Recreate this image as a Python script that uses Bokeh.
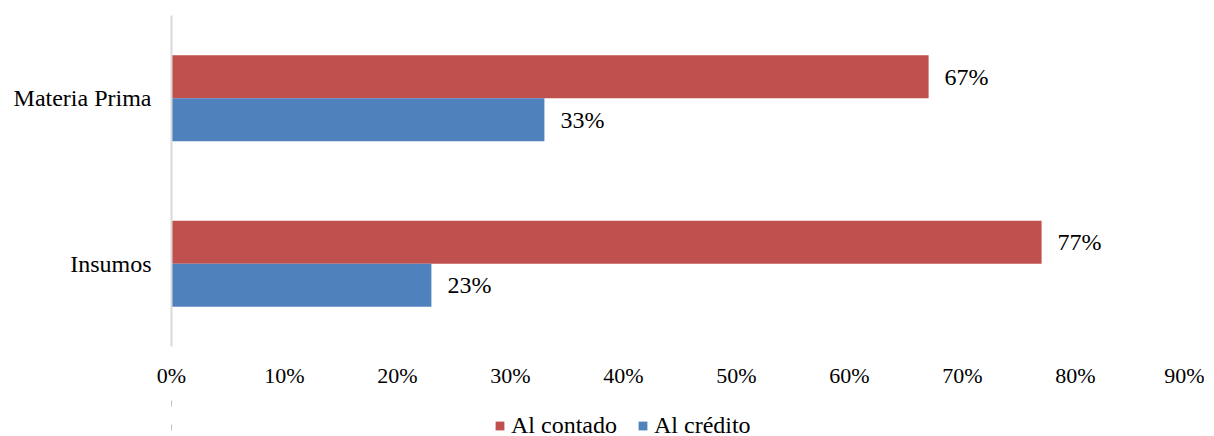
from bokeh.plotting import figure
from bokeh.models import ColumnDataSource, FactorRange, Range1d, FixedTicker, Legend, LegendItem
from bokeh.layouts import column
from bokeh.transform import dodge
from bokeh.core.properties import value
from bokeh.embed import file_html
from bokeh.resources import INLINE

categories = ["Insumos", "Materia Prima"]
al_contado = [77, 67]
al_credito = [23, 33]
tick_values = [0, 10, 20, 30, 40, 50, 60, 70, 80, 90]
series_names = ["Al contado", "Al crédito"]

FONT = "Liberation Serif"
RED = "#C0504D"
BLUE = "#4F81BD"

src = ColumnDataSource(dict(
    cat=categories,
    contado=al_contado,
    credito=al_credito,
    lbl_c=[f"{v}%" for v in al_contado],
    lbl_r=[f"{v}%" for v in al_credito],
))

p = figure(
    y_range=FactorRange(factors=categories, range_padding=0),
    x_range=Range1d(0, 90),
    width=1204, height=391,
    min_border_left=171, min_border_top=15, min_border_right=16, min_border_bottom=45,
    output_backend="svg", toolbar_location=None,
)

p.hbar(y=dodge("cat", 0.13, range=p.y_range), left=0, right="contado", height=0.26,
       source=src, fill_color=RED, line_color=None)
p.hbar(y=dodge("cat", -0.13, range=p.y_range), left=0, right="credito", height=0.26,
       source=src, fill_color=BLUE, line_color=None)

p.text(x="contado", y=dodge("cat", 0.13, range=p.y_range), text="lbl_c", source=src,
       x_offset=16, text_baseline="middle", text_align="left",
       text_font=value(FONT), text_font_size="24px", text_color="black")
p.text(x="credito", y=dodge("cat", -0.13, range=p.y_range), text="lbl_r", source=src,
       x_offset=16, text_baseline="middle", text_align="left",
       text_font=value(FONT), text_font_size="24px", text_color="black")

p.xgrid.visible = False
p.ygrid.visible = False
p.outline_line_color = None

xa = p.xaxis[0]
xa.ticker = FixedTicker(ticks=tick_values)
xa.major_label_overrides = {t: f"{t}%" for t in tick_values}
xa.axis_line_color = None
xa.major_tick_line_color = None
xa.minor_tick_line_color = None
xa.major_label_standoff = 10
xa.major_label_text_font = FONT
xa.major_label_text_font_size = "22px"
xa.major_label_text_color = "black"

ya = p.yaxis[0]
ya.axis_line_color = "#D9D9D9"
ya.axis_line_width = 2
ya.major_tick_line_color = None
ya.minor_tick_line_color = None
ya.major_label_standoff = 14
ya.major_label_text_font = FONT
ya.major_label_text_font_size = "24px"
ya.major_label_text_color = "black"

# Legend strip below the chart (its bars lie outside its visible range)
p2 = figure(
    y_range=FactorRange(factors=categories),
    x_range=Range1d(100, 101),
    width=1204, height=48,
    min_border_left=0, min_border_right=0, min_border_top=0, min_border_bottom=0,
    output_backend="svg", toolbar_location=None,
)
p2.axis.visible = False
p2.xgrid.visible = False
p2.ygrid.visible = False
p2.outline_line_color = None

l1 = p2.hbar(y="cat", left=0, right="contado", height=0.26, source=src,
             fill_color=RED, line_color=None)
l2 = p2.hbar(y="cat", left=0, right="credito", height=0.26, source=src,
             fill_color=BLUE, line_color=None)

legend = Legend(items=[LegendItem(label=series_names[0], renderers=[l1]),
                       LegendItem(label=series_names[1], renderers=[l2])],
                orientation="horizontal", location=(323, 0))
legend.label_text_font = FONT
legend.label_text_font_size = "24px"
legend.label_text_color = "black"
legend.glyph_width = 11
legend.glyph_height = 11
legend.label_standoff = 6
legend.spacing = 20
legend.border_line_color = None
legend.background_fill_alpha = 0
legend.padding = 0
legend.margin = 0
legend.label_height = 20
p2.add_layout(legend, "center")

layout = column(p, p2, spacing=0)
open("out.html", "w").write(file_html(layout, INLINE))
